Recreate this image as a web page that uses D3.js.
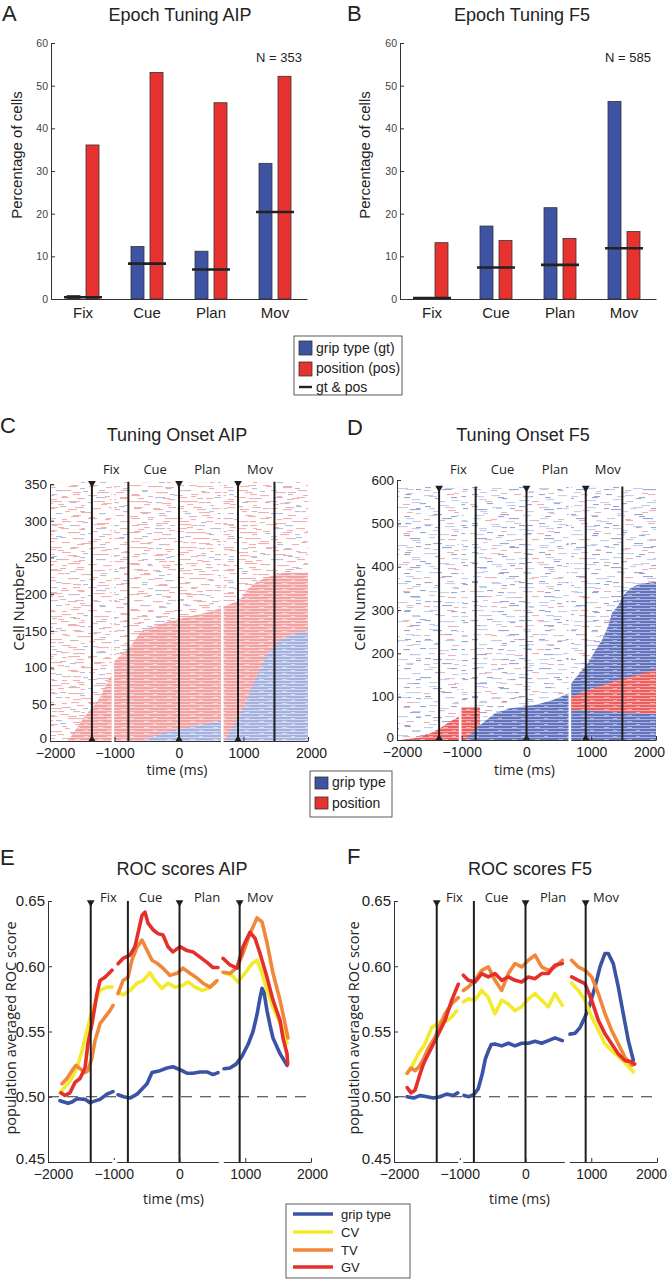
<!DOCTYPE html>
<html><head><meta charset="utf-8">
<script src="https://cdn.jsdelivr.net/npm/d3@7"></script>
<style>
body{margin:0;background:#fff}
svg{display:block}
</style>
</head><body>
<svg id="chart" width="671" height="1280"></svg>
<script>
// ---------------- DATA ----------------
const epochs = ["Fix", "Cue", "Plan", "Mov"];
// Panel A / B : percentage of tuned cells
const aipGrip = [0.8, 12.3, 11.2, 31.8];
const aipPos  = [36.1, 53.1, 46.0, 52.2];
const aipBoth = [0.4, 8.3, 6.9, 20.4];
const f5Grip  = [0.2, 17.1, 21.4, 46.3];
const f5Pos   = [13.2, 13.7, 14.2, 15.8];
const f5Both  = [0.2, 7.4, 8.0, 11.9];
const pctTicks = [0, 10, 20, 30, 40, 50, 60];
const nAip = 353, nF5 = 585;

// shared time axis
const timeTicks = [-2000, -1000, 0, 1000, 2000];
const eventTimes = [-1350, -785, 0, 915, 1480];
const eventMarked = [true, false, true, true, false];
const epochLabelTimesRaster = [-1050, -370, 440, 1255];
const epochLabelTimesRoc = [-1080, -440, 420, 1225];
const rasterGaps = [-1025, 670];
const rocGaps = [-985, 635];

// Panels C / D : tuning onset boundaries [time ms, cell number]
const aipTicksY = [0, 50, 100, 150, 200, 250, 300, 350];
const aipPosOnsetFix  = [[-1720,0],[-1490,30],[-1225,59],[-1070,88],[-1035,88],[-1035,0]];
const aipPosOnsetCue  = [[-1010,0],[-1010,108],[-760,128],[-605,147],[-558,151],[-186,162],[124,169],[481,176],[655,181],[655,0]];
const aipGripOnsetCue = [[-605,0],[-186,13],[217,20],[655,28],[655,0]];
const aipPosOnsetMov  = [[685,0],[685,183],[945,192],[1054,206],[1209,217],[1364,223],[1612,229],[2000,229],[2000,0]];
const aipGripOnsetMov = [[744,0],[744,5],[1023,49],[1178,83],[1333,114],[1566,138],[1798,147],[2000,150],[2000,0]];

const f5TicksY = [0, 100, 200, 300, 400, 500, 600];
const f5PosOnsetFix  = [[-1950,0],[-1650,6],[-1410,20],[-1210,40],[-1040,55],[-1040,0]];
const f5PosOnsetCue  = [[-1010,0],[-1010,76],[-720,76],[-720,0]];
const f5GripOnsetCue = [[-950,0],[-750,30],[-490,62],[-225,74],[130,81],[395,92],[655,108],[655,0]];
const f5GripOnsetMov = [[685,0],[685,130],[826,155],[950,178],[1058,205],[1166,231],[1259,262],[1320,293],[1413,310],[1506,335],[1598,350],[1753,360],[2000,365],[2000,0]];
const f5PosOnsetMov  = [[685,70],[685,98],[950,115],[1413,139],[2000,162],[2000,60]];

// Panels E / F : population averaged ROC score, segments of [time ms, score]
const rocTicksY = [0.45, 0.50, 0.55, 0.60, 0.65];
const aipGripRoc = [
  [[-1818,0.497],[-1696,0.495],[-1635,0.496],[-1559,0.4985],[-1437,0.498],[-1361,0.4955],[-1209,0.498],[-1103,0.502],[-1011,0.504]],
  [[-935,0.5015],[-850,0.500],[-753,0.499],[-646,0.502],[-494,0.510],[-418,0.5185],[-297,0.520],[-190,0.522],[-99,0.523],[38,0.520],[114,0.518],[205,0.518],[312,0.519],[418,0.519],[510,0.517],[586,0.5185]],
  [[677,0.5215],[768,0.522],[860,0.525],[950,0.531],[1042,0.540],[1118,0.550],[1179,0.563],[1225,0.576],[1255,0.583],[1285,0.580],[1331,0.566],[1376,0.555],[1422,0.545],[1529,0.533],[1635,0.524]]
];
const aipCvRoc = [
  [[-1818,0.503],[-1666,0.512],[-1559,0.522],[-1483,0.535],[-1407,0.551],[-1316,0.5685],[-1209,0.5815],[-1103,0.584],[-1027,0.584]],
  [[-935,0.580],[-859,0.578],[-753,0.5815],[-646,0.587],[-555,0.589],[-449,0.595],[-373,0.589],[-266,0.583],[-175,0.587],[-68,0.584],[38,0.585],[129,0.588],[236,0.584],[342,0.5815],[433,0.583],[540,0.587]],
  [[692,0.5946],[799,0.593],[890,0.588],[996,0.5946],[1103,0.602],[1179,0.6046],[1255,0.5946],[1331,0.5815],[1422,0.5685],[1559,0.553],[1635,0.541]]
];
const aipTvRoc = [
  [[-1787,0.510],[-1711,0.514],[-1635,0.520],[-1574,0.524],[-1513,0.5215],[-1437,0.5185],[-1392,0.520],[-1331,0.530],[-1285,0.543],[-1209,0.556],[-1133,0.561],[-1057,0.566],[-1011,0.570]],
  [[-935,0.579],[-859,0.589],[-783,0.5915],[-722,0.605],[-646,0.6146],[-570,0.620],[-494,0.6123],[-418,0.6046],[-342,0.6023],[-251,0.5985],[-144,0.593],[-38,0.5946],[53,0.5985],[160,0.5946],[266,0.591],[357,0.587],[464,0.584],[570,0.589]],
  [[662,0.5954],[768,0.5946],[875,0.599],[966,0.610],[1072,0.625],[1179,0.637],[1255,0.634],[1331,0.618],[1422,0.5946],[1529,0.574],[1605,0.556],[1650,0.545]]
];
const aipGvRoc = [
  [[-1802,0.503],[-1742,0.501],[-1666,0.503],[-1589,0.511],[-1513,0.514],[-1437,0.522],[-1392,0.541],[-1331,0.556],[-1255,0.579],[-1209,0.589],[-1133,0.5915],[-1027,0.597]],
  [[-935,0.602],[-859,0.606],[-753,0.6085],[-677,0.615],[-570,0.639],[-525,0.6415],[-479,0.633],[-403,0.628],[-327,0.625],[-251,0.624],[-175,0.615],[-99,0.611],[8,0.615],[114,0.612],[205,0.611],[312,0.607],[418,0.603],[510,0.599],[586,0.599]],
  [[662,0.606],[768,0.601],[875,0.5985],[966,0.615],[1072,0.626],[1148,0.6215],[1224,0.610],[1331,0.5915],[1422,0.574],[1529,0.5585],[1574,0.545],[1635,0.533],[1645,0.525]]
];
const f5GripRoc = [
  [[-1800,0.500],[-1700,0.499],[-1600,0.501],[-1500,0.500],[-1400,0.499],[-1300,0.500],[-1200,0.502],[-1100,0.501],[-1030,0.503]],
  [[-935,0.501],[-860,0.500],[-780,0.502],[-720,0.506],[-660,0.517],[-610,0.529],[-566,0.535],[-520,0.540],[-464,0.5405],[-362,0.539],[-261,0.541],[-160,0.539],[-58,0.541],[43,0.541],[145,0.5425],[246,0.541],[347,0.543],[449,0.5451],[560,0.543]],
  [[677,0.548],[753,0.5487],[829,0.553],[905,0.561],[981,0.571],[1057,0.584],[1133,0.5995],[1209,0.6098],[1259,0.6098],[1335,0.602],[1412,0.584],[1487,0.5636],[1564,0.543],[1640,0.528]]
];
const f5CvRoc = [
  [[-1800,0.518],[-1720,0.524],[-1630,0.533],[-1529,0.5405],[-1427,0.553],[-1340,0.556],[-1275,0.5585],[-1200,0.558],[-1123,0.561],[-1047,0.566]],
  [[-946,0.5726],[-870,0.575],[-768,0.574],[-666,0.5815],[-566,0.576],[-464,0.5636],[-362,0.574],[-261,0.571],[-160,0.566],[-58,0.569],[43,0.575],[145,0.579],[246,0.574],[347,0.569],[449,0.579],[560,0.570]],
  [[702,0.587],[803,0.5815],[905,0.574],[1007,0.561],[1108,0.551],[1209,0.5405],[1361,0.533],[1500,0.527],[1640,0.519]]
];
const f5TvRoc = [
  [[-1800,0.518],[-1740,0.522],[-1680,0.520],[-1620,0.523],[-1560,0.528],[-1480,0.537],[-1376,0.5456],[-1300,0.555],[-1224,0.5636],[-1123,0.5713],[-1022,0.5759]],
  [[-946,0.5815],[-870,0.5841],[-768,0.5892],[-666,0.5969],[-566,0.5995],[-464,0.5892],[-362,0.5815],[-261,0.5944],[-160,0.6021],[-58,0.5995],[43,0.6046],[145,0.6085],[246,0.5995],[347,0.5969],[449,0.5995],[560,0.6046]],
  [[702,0.6046],[803,0.5995],[905,0.5969],[1007,0.5918],[1108,0.579],[1209,0.5636],[1311,0.5508],[1412,0.5405],[1513,0.5302],[1620,0.524]]
];
const f5GvRoc = [
  [[-1800,0.507],[-1740,0.503],[-1680,0.505],[-1620,0.515],[-1560,0.524],[-1529,0.5277],[-1427,0.5379],[-1326,0.5482],[-1224,0.5585],[-1123,0.5738],[-1022,0.5862]],
  [[-946,0.5931],[-870,0.5892],[-768,0.5879],[-666,0.5944],[-566,0.5918],[-464,0.5944],[-362,0.5892],[-261,0.5918],[-160,0.5892],[-58,0.5879],[43,0.5918],[145,0.5905],[246,0.5944],[347,0.5944],[449,0.6008],[560,0.6021]],
  [[702,0.5918],[803,0.5892],[905,0.5867],[1007,0.5738],[1108,0.5585],[1209,0.5482],[1311,0.5405],[1412,0.5328],[1513,0.5277],[1600,0.527],[1660,0.525]]
];
const rocSeriesNames = ["grip type", "CV", "TV", "GV"];

// ---------------- STYLE ----------------
const FONT = '"Liberation Sans", Arial, Helvetica, sans-serif';
const FONT2 = '"Open Sans", "Liberation Sans", sans-serif';
const BAR_BLUE = "#3f53a3", BAR_RED = "#e8322f";
const ROC_COLORS = ["#3a53a4", "#f3ea2c", "#f0873a", "#e52f2b"];
const INK = "#222";
const fmtTime = d3.format("d");

const svg = d3.select("#chart");
const defs = svg.append("defs");

// stripe textures for dense raster regions
function stripe(id, dark, light) {
  const p = defs.append("pattern").attr("id", id).attr("patternUnits", "userSpaceOnUse")
    .attr("width", 23).attr("height", 6);
  p.append("rect").attr("width", 23).attr("height", 6).attr("fill", light);
  p.append("rect").attr("width", 23).attr("height", 2).attr("fill", dark);
  p.append("rect").attr("y", 3).attr("width", 23).attr("height", 2).attr("fill", dark);
  p.append("rect").attr("x", 6).attr("y", 1).attr("width", 5).attr("height", 1).attr("fill", light);
  p.append("rect").attr("x", 15).attr("y", 4).attr("width", 4).attr("height", 1).attr("fill", light);
}
stripe("stRedC", "#f2a0a0", "#f9d5d5");
stripe("stBlueC", "#a4b0de", "#d4daf0");
stripe("stRedD", "#ef5e5e", "#f6abab");
stripe("stBlueD", "#6373bd", "#abb4dd");

// sparse dash texture for the scattered raster background
function noise(id, w, h, dashes, colors) {
  const p = defs.append("pattern").attr("id", id).attr("patternUnits", "userSpaceOnUse")
    .attr("width", w).attr("height", h);
  dashes.forEach(d => p.append("rect").attr("x", d[0]).attr("y", d[1]).attr("width", d[2])
    .attr("height", 1.1).attr("fill", colors[d[3]]));
}
const texCa = [[2,1,8,0],[20,2,6,0],[37,1,10,1],[51,3,6,0],[9,5,12,0],[29,6,5,1],[44,7,9,0],
  [1,10,6,1],[16,11,9,0],[35,12,7,0],[50,11,8,0],[6,15,5,0],[22,16,11,0],[41,17,6,1],
  [12,20,8,0],[30,21,6,0],[47,22,9,0],[3,25,9,0],[24,26,5,1],[38,27,12,0],[14,29,7,0],[52,29,5,1]];
const texCb = [[5,2,7,0],[25,3,9,0],[37,5,5,1],[13,7,6,1],[30,9,8,0],[2,12,9,0],[19,13,5,0],
  [34,15,7,0],[8,18,11,0],[27,19,6,1],[15,21,6,0],[38,22,4,0]];
const texDa = [[3,1,6,1],[22,2,9,2],[45,1,7,0],[58,3,6,1],[10,6,8,2],[33,5,5,1],[50,7,10,2],
  [1,11,7,0],[18,10,6,1],[38,12,9,2],[57,11,6,1],[8,16,10,1],[27,15,6,2],[46,17,8,0],
  [14,20,5,2],[31,21,9,1],[55,22,7,2],[4,25,8,2],[22,26,6,0],[40,25,10,1],[60,27,5,2]];
const texDb = [[6,2,8,2],[28,3,6,1],[15,7,7,0],[36,8,9,2],[2,12,6,1],[22,13,10,2],[40,14,5,1],
  [10,17,7,2],[31,18,6,0]];
noise("noiseCa", 59, 31, texCa, ["#f2b0b0", "#b5bee2"]);
noise("noiseCb", 43, 23, texCb, ["#f2b0b0", "#b5bee2"]);
noise("noiseDa", 67, 29, texDa, ["#f4b0b0", "#9aa6d7", "#c6cceb"]);
noise("noiseDb", 47, 19, texDb, ["#f4b0b0", "#9aa6d7", "#c6cceb"]);

function txt(x, y, s, o = {}) {
  const t = svg.append("text").attr("x", x).attr("y", y).text(s)
    .attr("font-family", o.font || FONT).attr("font-size", o.size || 14)
    .attr("fill", o.fill || INK).attr("text-anchor", o.anchor || "start");
  if (o.rotate) t.attr("transform", `rotate(-90,${x},${y})`);
  return t;
}
function styleAxis(g, size, fill, font) {
  g.attr("font-family", font || FONT).attr("font-size", size);
  g.select(".domain").attr("stroke", "#333").attr("stroke-width", 1);
  g.selectAll(".tick line").attr("stroke", "#333");
  g.selectAll(".tick text").attr("fill", fill);
}
function nudgeEnds(xa, firstDx, lastDx) {
  const t = xa.selectAll(".tick text");
  const n = t.size();
  t.attr("dx", (d, i) => i === 0 ? firstDx : (i === n - 1 ? lastDx : 0));
}

// ---------------- PANELS A / B ----------------
function barPanel(c) {
  const x = d3.scaleBand().domain(epochs).range([c.x0, c.x1]).padding(0);
  const bw = x.bandwidth();
  const sub = d3.scaleBand().domain(["grip", "pos"]).range([bw / 2 - 16, bw / 2 + 16]).paddingInner(0.3158);
  const y = d3.scaleLinear().domain([0, 60]).range([c.yb, c.yt]);
  const g = svg.append("g");
  const rows = epochs.map((e, i) => ({ e, grip: c.grip[i], pos: c.pos[i], both: c.both[i] }));
  g.selectAll(".gb").data(rows).join("rect")
    .attr("x", d => x(d.e) + sub("grip")).attr("width", sub.bandwidth())
    .attr("y", d => y(d.grip)).attr("height", d => y(0) - y(d.grip))
    .attr("fill", BAR_BLUE).attr("stroke", "#333").attr("stroke-width", 0.8);
  g.selectAll(".pb").data(rows).join("rect")
    .attr("x", d => x(d.e) + sub("pos")).attr("width", sub.bandwidth())
    .attr("y", d => y(d.pos)).attr("height", d => y(0) - y(d.pos))
    .attr("fill", BAR_RED).attr("stroke", "#333").attr("stroke-width", 0.8);
  g.selectAll(".bl").data(rows).join("line")
    .attr("x1", d => x(d.e) + bw / 2 - 19).attr("x2", d => x(d.e) + bw / 2 + 19)
    .attr("y1", d => y(d.both)).attr("y2", d => y(d.both))
    .attr("stroke", "#222").attr("stroke-width", 2.6);
  const ya = g.append("g").attr("transform", `translate(${c.x0},0)`)
    .call(d3.axisLeft(y).tickValues(pctTicks).tickSize(-4).tickSizeOuter(0).tickPadding(3));
  styleAxis(ya, 10.5, "#444");
  const xa = g.append("g").attr("transform", `translate(0,${c.yb})`)
    .call(d3.axisBottom(x).tickSize(0).tickPadding(8));
  styleAxis(xa, 15, INK);
  txt(c.x1 - 5, 62, "N = " + c.n, { size: 13, anchor: "end" });
  txt(c.ylabX, 155, "Percentage of cells", { size: 15, anchor: "middle", rotate: true });
}
barPanel({ x0: 51, x1: 307, yb: 299, yt: 43, grip: aipGrip, pos: aipPos, both: aipBoth, n: nAip, ylabX: 22 });
barPanel({ x0: 400, x1: 656, yb: 299, yt: 43, grip: f5Grip, pos: f5Pos, both: f5Both, n: nF5, ylabX: 370 });

txt(2, 21, "A", { size: 22 });
txt(347, 21, "B", { size: 22 });
txt(180, 21, "Epoch Tuning AIP", { size: 18, anchor: "middle" });
txt(522, 21, "Epoch Tuning F5", { size: 18, anchor: "middle" });

// legend 1
(function () {
  const g = svg.append("g");
  g.append("rect").attr("x", 294).attr("y", 336).attr("width", 108).attr("height", 59)
    .attr("fill", "#fff").attr("stroke", "#333").attr("stroke-width", 0.8);
  g.append("rect").attr("x", 299).attr("y", 341).attr("width", 13).attr("height", 14).attr("fill", BAR_BLUE).attr("stroke", "#333").attr("stroke-width", 0.8);
  g.append("rect").attr("x", 299).attr("y", 362).attr("width", 13).attr("height", 14).attr("fill", BAR_RED).attr("stroke", "#333").attr("stroke-width", 0.8);
  g.append("line").attr("x1", 299).attr("x2", 312).attr("y1", 387).attr("y2", 387).attr("stroke", "#222").attr("stroke-width", 2.4);
  txt(316, 353, "grip type (gt)", { size: 14 });
  txt(316, 373, "position (pos)", { size: 14 });
  txt(316, 392, "gt & pos", { size: 14 });
})();

// ---------------- PANELS C / D ----------------
function eventLines(g, x, yTop, yBot, times, marked, bottomMarks) {
  times.forEach((t, i) => {
    g.append("line").attr("x1", x(t)).attr("x2", x(t)).attr("y1", yTop).attr("y2", yBot)
      .attr("stroke", "#1e1e1e").attr("stroke-width", 2);
    if (marked[i]) {
      g.append("path").attr("d", d3.symbol(d3.symbolTriangle, 26)())
        .attr("transform", `translate(${x(t)},${yTop + 1.5}) rotate(180)`).attr("fill", "#1e1e1e");
      if (bottomMarks) g.append("path").attr("d", d3.symbol(d3.symbolTriangle, 20)())
        .attr("transform", `translate(${x(t)},${yBot - 2})`).attr("fill", "#1e1e1e");
    }
  });
}

let clipId = 0;
function rasterPanel(c) {
  const x = d3.scaleLinear().domain([-2000, 2000]).range([c.x0, c.x1]);
  const y = d3.scaleLinear().domain([0, c.ymax]).range([c.yb, c.yt]);
  const g = svg.append("g");
  const id = "clip" + (clipId++);
  defs.append("clipPath").attr("id", id).append("rect")
    .attr("x", c.x0).attr("y", y(c.n)).attr("width", c.x1 - c.x0).attr("height", c.yb - y(c.n));
  const pg = g.append("g").attr("clip-path", `url(#${id})`);
  c.noise.forEach(nz => pg.append("rect").attr("x", c.x0 + 1).attr("y", y(c.n)).attr("width", c.x1 - c.x0 - 1)
    .attr("height", c.yb - y(c.n)).attr("fill", `url(#${nz})`));
  const line = d3.line().x(d => x(d[0])).y(d => y(d[1]));
  c.regions.forEach(r => pg.append("path").attr("d", line(r.pts) + "Z").attr("fill", r.fill));
  rasterGaps.forEach(t => pg.append("rect").attr("x", x(t) - 1.3).attr("width", 2.6)
    .attr("y", y(c.n) - 2).attr("height", c.yb - y(c.n) + 4).attr("fill", "#fff"));
  eventLines(g, x, y(c.n), c.yb, eventTimes, eventMarked, true);
  const ya = g.append("g").attr("transform", `translate(${c.x0},0)`)
    .call(d3.axisLeft(y).tickValues(c.ticks).tickSize(-4).tickSizeOuter(0).tickPadding(3));
  styleAxis(ya, 13.5, INK);
  ya.selectAll(".tick text").attr("dy", (d, i) => i === 0 ? "0.1em" : "0.32em");
  const xa = g.append("g").attr("transform", `translate(0,${c.yb})`)
    .call(d3.axisBottom(x).tickValues(timeTicks).tickFormat(fmtTime).tickSize(-4).tickSizeOuter(0).tickPadding(7));
  styleAxis(xa, 14, INK);
  nudgeEnds(xa, 5, c.lastDx);
  rasterGaps.forEach(t => g.append("rect").attr("x", x(t) - 1.3).attr("width", 2.6)
    .attr("y", c.yb - 1).attr("height", 3).attr("fill", "#fff"));
  epochs.forEach((e, i) => txt(x(epochLabelTimesRaster[i]), 474, e, { size: 13, font: FONT2, anchor: "middle" }));
  txt((c.x0 + c.x1) / 2 - 2, 775, "time (ms)", { size: 14, font: FONT2, anchor: "middle" });
  txt(c.ylabX, 607, "Cell Number", { size: 15, font: FONT2, anchor: "middle", rotate: true });
}
rasterPanel({
  x0: 50, x1: 308, yb: 741, yt: 484, ymax: 350, n: nAip, ticks: aipTicksY, noise: ["noiseCa", "noiseCb"], ylabX: 24, lastDx: 3,
  regions: [
    { pts: aipPosOnsetFix, fill: "url(#stRedC)" },
    { pts: aipPosOnsetCue, fill: "url(#stRedC)" },
    { pts: aipGripOnsetCue, fill: "url(#stBlueC)" },
    { pts: aipPosOnsetMov, fill: "url(#stRedC)" },
    { pts: aipGripOnsetMov, fill: "url(#stBlueC)" }
  ]
});
rasterPanel({
  x0: 397, x1: 656, yb: 740, yt: 480, ymax: 600, n: nF5, ticks: f5TicksY, noise: ["noiseDa", "noiseDb"], ylabX: 365, lastDx: -7,
  regions: [
    { pts: f5PosOnsetFix, fill: "url(#stRedD)" },
    { pts: f5PosOnsetCue, fill: "url(#stRedD)" },
    { pts: f5GripOnsetCue, fill: "url(#stBlueD)" },
    { pts: f5GripOnsetMov, fill: "url(#stBlueD)" },
    { pts: f5PosOnsetMov, fill: "url(#stRedD)" }
  ]
});
txt(0, 433, "C", { size: 22 });
txt(347, 435, "D", { size: 22 });
txt(177, 441, "Tuning Onset AIP", { size: 18, anchor: "middle" });
txt(523, 441, "Tuning Onset F5", { size: 18, anchor: "middle" });

// legend 2
(function () {
  const g = svg.append("g");
  g.append("rect").attr("x", 310).attr("y", 771).attr("width", 82).attr("height", 46)
    .attr("fill", "#fff").attr("stroke", "#333").attr("stroke-width", 0.8);
  g.append("rect").attr("x", 315).attr("y", 777).attr("width", 13).attr("height", 12).attr("fill", BAR_BLUE).attr("stroke", "#333").attr("stroke-width", 0.8);
  g.append("rect").attr("x", 315).attr("y", 797).attr("width", 13).attr("height", 12).attr("fill", BAR_RED).attr("stroke", "#333").attr("stroke-width", 0.8);
  txt(332, 787, "grip type", { size: 14 });
  txt(332, 808, "position", { size: 14 });
})();

// ---------------- PANELS E / F ----------------
function rocPanel(c) {
  const x = d3.scaleLinear().domain([-2000, 2000]).range([c.x0, c.x1]);
  const y = d3.scaleLinear().domain([0.45, 0.65]).range([1162, 901]);
  const g = svg.append("g");
  g.append("line").attr("x1", x(-2000)).attr("x2", x(2000)).attr("y1", y(0.5)).attr("y2", y(0.5))
    .attr("stroke", "#333").attr("stroke-width", 1).attr("stroke-dasharray", "11,8");
  const line = d3.line().x(d => x(d[0])).y(d => y(d[1]));
  c.series.forEach((segs, i) => segs.forEach(s => g.append("path").attr("d", line(s))
    .attr("fill", "none").attr("stroke", ROC_COLORS[i]).attr("stroke-width", 3.6)
    .attr("stroke-linejoin", "round").attr("stroke-linecap", "round")));
  eventLines(g, x, y(0.65), y(0.45), eventTimes.slice(0, 4), eventMarked, false);
  const ya = g.append("g").attr("transform", `translate(${c.x0},0)`)
    .call(d3.axisLeft(y).tickValues(rocTicksY).tickFormat(d3.format(".2f")).tickSize(-4).tickSizeOuter(0).tickPadding(3));
  styleAxis(ya, 15, INK);
  ya.selectAll(".tick text").attr("dy", (d, i) => i === 0 ? "0.12em" : "0.32em");
  const xa = g.append("g").attr("transform", `translate(0,1162)`)
    .call(d3.axisBottom(x).tickValues(timeTicks).tickFormat(fmtTime).tickSize(-4).tickSizeOuter(0).tickPadding(7));
  styleAxis(xa, 14, INK);
  nudgeEnds(xa, 5, c.lastDx);
  rocGaps.forEach(t => g.append("rect").attr("x", x(t) - 2.5).attr("width", 5)
    .attr("y", 1160).attr("height", 4).attr("fill", "#fff"));
  epochs.forEach((e, i) => txt(x(epochLabelTimesRoc[i]), 902, e, { size: 13, font: FONT2, anchor: "middle" }));
  txt((c.x0 + c.x1) / 2 - 6, 1204, "time (ms)", { size: 14, font: FONT2, anchor: "middle" });
  txt(c.ylabX, 1028, "population averaged ROC score", { size: 14.5, font: FONT2, anchor: "middle", rotate: true });
}
rocPanel({ x0: 48, x1: 311, series: [aipGripRoc, aipCvRoc, aipTvRoc, aipGvRoc], ylabX: 16, lastDx: 1 });
rocPanel({ x0: 394, x1: 657, series: [f5GripRoc, f5CvRoc, f5TvRoc, f5GvRoc], ylabX: 359, lastDx: -6 });
txt(0, 865, "E", { size: 22 });
txt(347, 864, "F", { size: 22 });
txt(182, 875, "ROC scores AIP", { size: 18, anchor: "middle" });
txt(530, 875, "ROC scores F5", { size: 18, anchor: "middle" });

// legend 3
(function () {
  const g = svg.append("g");
  g.append("rect").attr("x", 286).attr("y", 1204).attr("width", 124).attr("height", 74)
    .attr("fill", "#fff").attr("stroke", "#333").attr("stroke-width", 0.8);
  const ly = [1214, 1232, 1250, 1267];
  rocSeriesNames.forEach((n, i) => {
    g.append("line").attr("x1", 293).attr("x2", 333).attr("y1", ly[i]).attr("y2", ly[i])
      .attr("stroke", ROC_COLORS[i]).attr("stroke-width", 3.6);
    txt(341, ly[i] + 5, n, { size: 13 });
  });
})();
</script>
</body></html>
